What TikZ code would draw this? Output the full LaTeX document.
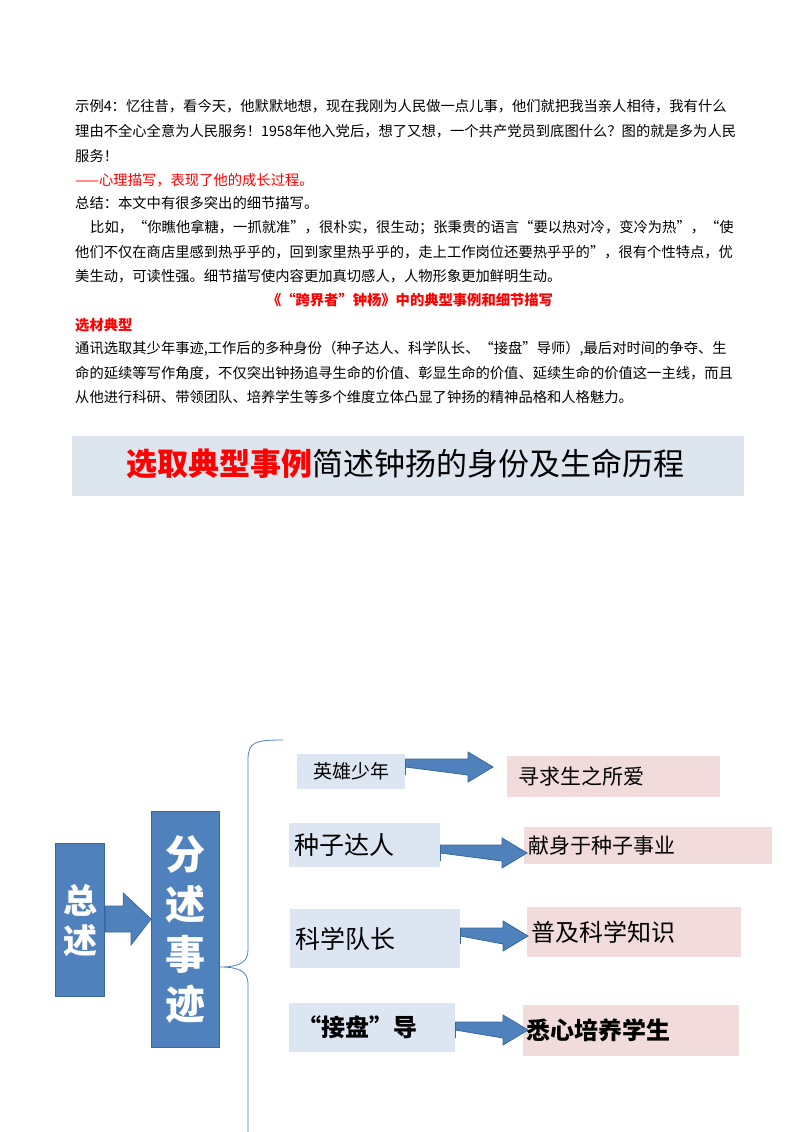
\documentclass[tikz,border=0pt]{standalone}
\usepackage{fontspec}
\setmainfont{Noto Sans CJK SC}
\begin{document}
\begin{tikzpicture}[x=1pt,y=-1pt,
  body/.style={anchor=west,inner sep=0pt,font=\fontsize{14.3}{16}\selectfont},
  redt/.style={body,text=red},
  lbox/.style={fill=lb,inner sep=0pt,anchor=north west},
  pbox/.style={fill=pk,inner sep=0pt,anchor=north west},
  bbox/.style={fill=bl,draw=bd,line width=1.2pt,inner sep=0pt,anchor=north west,text=white,font=\bfseries},
  barrow/.style={fill=bl,draw=bd,line width=0.8pt}]
\definecolor{lb}{HTML}{DCE6F2}
\definecolor{pk}{HTML}{F2DCDB}
\definecolor{bl}{HTML}{4F81BD}
\definecolor{bd}{HTML}{3A6898}
\definecolor{band}{HTML}{DDE5EF}
\useasboundingbox (0,0) rectangle (800,1132);
\fill[white] (0,0) rectangle (800,1132);
% text
\node[body] (l1) at (75,106) {示例4：忆往昔，看今天，他默默地想，现在我刚为人民做一点儿事，他们就把我当亲人相待，我有什么};
\node[body] (l2) at (75,131) {理由不全心全意为人民服务！1958年他入党后，想了又想，一个共产党员到底图什么？图的就是多为人民};
\node[body] (l3) at (75,156) {服务！};
\node[redt] (l4) at (75,180) {——心理描写，表现了他的成长过程。};
\node[body] (l5) at (75,203) {总结：本文中有很多突出的细节描写。};
\node[body] (l6) at (90,228) {比如，“你瞧他拿糖，一抓就准”，很朴实，很生动；张秉贵的语言“要以热对冷，变冷为热”，“使};
\node[body] (l7) at (75,252) {他们不仅在商店里感到热乎乎的，回到家里热乎乎的，走上工作岗位还要热乎乎的”，很有个性特点，优};
\node[body] (l8) at (75,276) {美生动，可读性强。细节描写使内容更加真切感人，人物形象更加鲜明生动。};
\node[redt,anchor=center,font=\fontsize{14.3}{16}\selectfont\bfseries] (l9) at (410,300) {《“跨界者”钟杨》中的典型事例和细节描写};
\node[redt,font=\fontsize{14.3}{16}\selectfont\bfseries] (l10) at (75,325) {选材典型};
\node[body] (l11) at (75,349) {通讯选取其少年事迹,工作后的多种身份（种子达人、科学队长、“接盘”导师）,最后对时间的争夺、生};
\node[body] (l12) at (75,373) {命的延续等写作角度，不仅突出钟扬追寻生命的价值、彰显生命的价值、延续生命的价值这一主线，而且};
\node[body] (l13) at (75,397) {从他进行科研、带领团队、培养学生等多个维度立体凸显了钟扬的精神品格和人格魅力。};
% title band
\fill[band] (72,436) rectangle (744,496);
\node[inner sep=0pt,font=\fontsize{31}{34}\selectfont] (title) at (405,464) {\textcolor{red}{\bfseries 选取典型事例}简述钟扬的身份及生命历程};
% left boxes
\node[bbox,minimum width=49,minimum height=153,font=\fontsize{34}{40}\selectfont\bfseries,align=center] (zs) at (55,843) {总\\述};
\node[bbox,minimum width=68,minimum height=236,font=\fontsize{40}{50}\selectfont\bfseries,align=center] (fs) at (151,811) {分\\述\\事\\迹};
\draw[barrow] (zs.east |- 0,906) -- ++(18,0) -- ++(0,-13) -- (fs.west |- 0,919) -- (131,945) -- ++(0,-13) -- (zs.east |- 0,932) -- cycle;
% brace
\coordinate (bt) at (283,740);
\coordinate (bb) at (248,1132);
\draw[bl,line width=0.8pt] (bt) .. controls (255,740) and (248,742) .. (248,760) -- (248,950) .. controls (248,962) and (240,967) .. (fs.east |- 0,967) .. controls (240,967) and (248,972) .. (248,984) -- (bb);
% rows
\node[lbox,minimum width=108,minimum height=35,font=\fontsize{19}{20}\selectfont] (a1) at (297,754) {英雄少年};
\node[pbox,minimum width=213,minimum height=41,font=\fontsize{21}{22}\selectfont,text width=190,align=left] (b1) at (507,756) {寻求生之所爱};
\node[lbox,minimum width=151,minimum height=44,font=\fontsize{25}{26}\selectfont,text width=140,align=left] (a2) at (289,823) {种子达人};
\node[pbox,minimum width=248,minimum height=37,font=\fontsize{21}{22}\selectfont,text width=240,align=left] (b2) at (524,827) {献身于种子事业};
\node[lbox,minimum width=170,minimum height=59,font=\fontsize{25}{26}\selectfont,text width=160,align=left] (a3) at (290,909) {科学队长};
\node[pbox,minimum width=214,minimum height=50,font=\fontsize{24}{25}\selectfont,text width=205,align=left] (b3) at (527,907) {普及科学知识};
\node[lbox,minimum width=166,minimum height=49,font=\fontsize{24}{25}\selectfont\bfseries,text width=150,align=left] (a4) at (289,1003) {“接盘”导};
\node[pbox,minimum width=216,minimum height=51,font=\fontsize{24}{25}\selectfont\bfseries,text width=210,align=left] (b4) at (523,1005) {悉心培养学生};
% arrows
\foreach \s/\e/\y/\h in {a1/b1/767/493, a2/b2/853/527, a3/b3/936/528, a4/b4/1030/528}{
  \draw[barrow] (\s.east |- 0,\y) ++(0,-8) -- (\h-25,\y-8) -- (\h-25,\y-15) -- (\h,\y) -- (\h-25,\y+15) -- (\h-25,\y+8) -- (\s.east |- 0,\y) -- ++(0,8) -- cycle;
}
\end{tikzpicture}
\end{document}
